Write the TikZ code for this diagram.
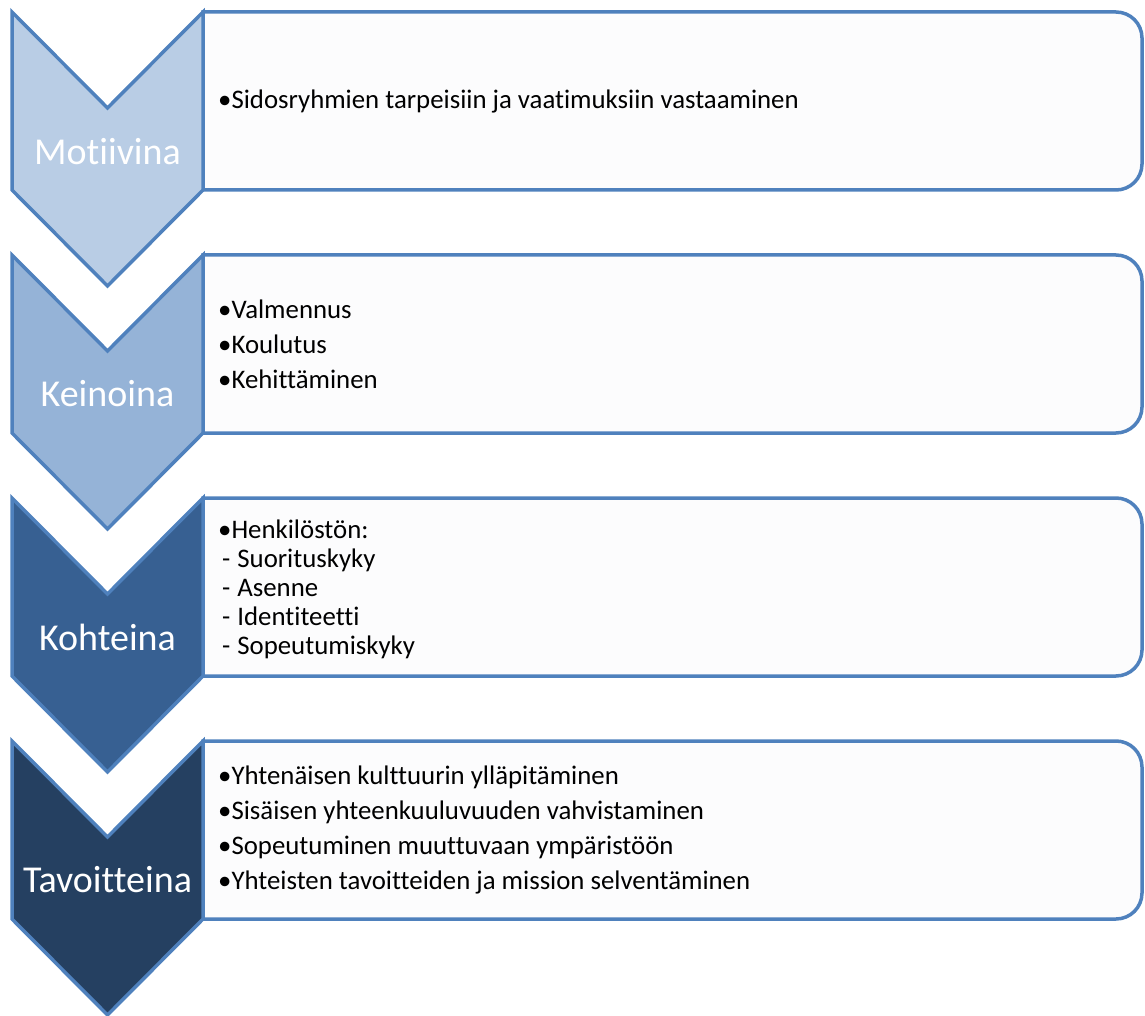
\documentclass[tikz,border=0pt]{standalone}
\usepackage{fontspec}
\setmainfont{Carlito}[Ligatures=NoCommon]
\usepackage{tikz}
\usetikzlibrary{calc}

\definecolor{rimBlue}{HTML}{4F81BD}
\definecolor{stageA}{HTML}{B9CDE5}
\definecolor{stageB}{HTML}{95B3D7}
\definecolor{stageC}{HTML}{376092}
\definecolor{stageD}{HTML}{254061}
\definecolor{boxFill}{HTML}{FCFCFD}

\newcommand{\dashline}[1]{\hspace{4pt}-\hspace{7pt}#1}

\begin{document}
\begin{tikzpicture}[
        x=1pt, y=-1pt,
        chevron/.style={draw=rimBlue, line width=3.5pt, line join=miter},
        infobox/.style={draw=rimBlue, line width=3.5pt, fill=boxFill},
        stagelabel/.style={text=white, font=\fontsize{38}{38}\selectfont, inner sep=0pt},
        itemtext/.style={anchor=west, align=left, inner sep=0pt, font=\fontsize{26.8}{35}\selectfont},
        tighttext/.style={itemtext, font=\fontsize{26.8}{29}\selectfont}
    ]
        \useasboundingbox (0,0) rectangle (1145,1016);

        % --- Mitat ---
        \def\chL{12}    % nuolen vasen reuna
        \def\chR{203}   % nuolen oikea reuna
        \def\chM{107.5} % nuolen keskilinja
        \def\boxR{1142} % laatikon oikea reuna
        \def\bodyH{178} % laatikon korkeus
        \def\dip{96}    % loven syvyys
        \def\rad{26}    % kulman pyoristys

        % --- Vaihe 1: Motiivina ---
        \def\top{12}
        \draw[infobox] (\chR,\top) -- (\boxR-\rad,\top) arc[start angle=-90, end angle=0, radius=\rad]
            -- (\boxR,\top+\bodyH-\rad) arc[start angle=0, end angle=90, radius=\rad] -- (\chR,\top+\bodyH) -- cycle;
        \draw[chevron, fill=stageA] (\chL,\top) -- (\chM,\top+\dip) -- (\chR,\top) -- (\chR,\top+\bodyH)
            -- (\chM,\top+\bodyH+\dip) -- (\chL,\top+\bodyH) -- cycle;
        \node[stagelabel] (motiivina) at (\chM,152) {Motiivina};
        \node[itemtext] (motiivinaTxt) at (218,101) {•Sidosryhmien tarpeisiin ja vaatimuksiin vastaaminen};

        % --- Vaihe 2: Keinoina ---
        \def\top{255}
        \draw[infobox] (\chR,\top) -- (\boxR-\rad,\top) arc[start angle=-90, end angle=0, radius=\rad]
            -- (\boxR,\top+\bodyH-\rad) arc[start angle=0, end angle=90, radius=\rad] -- (\chR,\top+\bodyH) -- cycle;
        \draw[chevron, fill=stageB] (\chL,\top) -- (\chM,\top+\dip) -- (\chR,\top) -- (\chR,\top+\bodyH)
            -- (\chM,\top+\bodyH+\dip) -- (\chL,\top+\bodyH) -- cycle;
        \node[stagelabel] (keinoina) at (\chM,394) {Keinoina};
        \node[itemtext] (keinoinaTxt) at (218,344) {•Valmennus\\•Koulutus\\•Kehittäminen};

        % --- Vaihe 3: Kohteina ---
        \def\top{498}
        \draw[infobox] (\chR,\top) -- (\boxR-\rad,\top) arc[start angle=-90, end angle=0, radius=\rad]
            -- (\boxR,\top+\bodyH-\rad) arc[start angle=0, end angle=90, radius=\rad] -- (\chR,\top+\bodyH) -- cycle;
        \draw[chevron, fill=stageC] (\chL,\top) -- (\chM,\top+\dip) -- (\chR,\top) -- (\chR,\top+\bodyH)
            -- (\chM,\top+\bodyH+\dip) -- (\chL,\top+\bodyH) -- cycle;
        \node[stagelabel] (kohteina) at (\chM,637) {Kohteina};
        \node[tighttext] (kohteinaTxt) at (218,589) {•Henkilöstön:\\
            \dashline{Suorituskyky}\\\dashline{Asenne}\\\dashline{Identiteetti}\\\dashline{Sopeutumiskyky}};

        % --- Vaihe 4: Tavoitteina ---
        \def\top{741}
        \draw[infobox] (\chR,\top) -- (\boxR-\rad,\top) arc[start angle=-90, end angle=0, radius=\rad]
            -- (\boxR,\top+\bodyH-\rad) arc[start angle=0, end angle=90, radius=\rad] -- (\chR,\top+\bodyH) -- cycle;
        \draw[chevron, fill=stageD] (\chL,\top) -- (\chM,\top+\dip) -- (\chR,\top) -- (\chR,\top+\bodyH)
            -- (\chM,\top+\bodyH+\dip) -- (\chL,\top+\bodyH) -- cycle;
        \node[stagelabel] (tavoitteina) at (\chM,880) {Tavoitteina};
        \node[itemtext] (tavoitteinaTxt) at (218,830) {•Yhtenäisen kulttuurin ylläpitäminen\\
            •Sisäisen yhteenkuuluvuuden vahvistaminen\\•Sopeutuminen muuttuvaan ympäristöön\\
            •Yhteisten tavoitteiden ja mission selventäminen};
    \end{tikzpicture}
\end{document}
